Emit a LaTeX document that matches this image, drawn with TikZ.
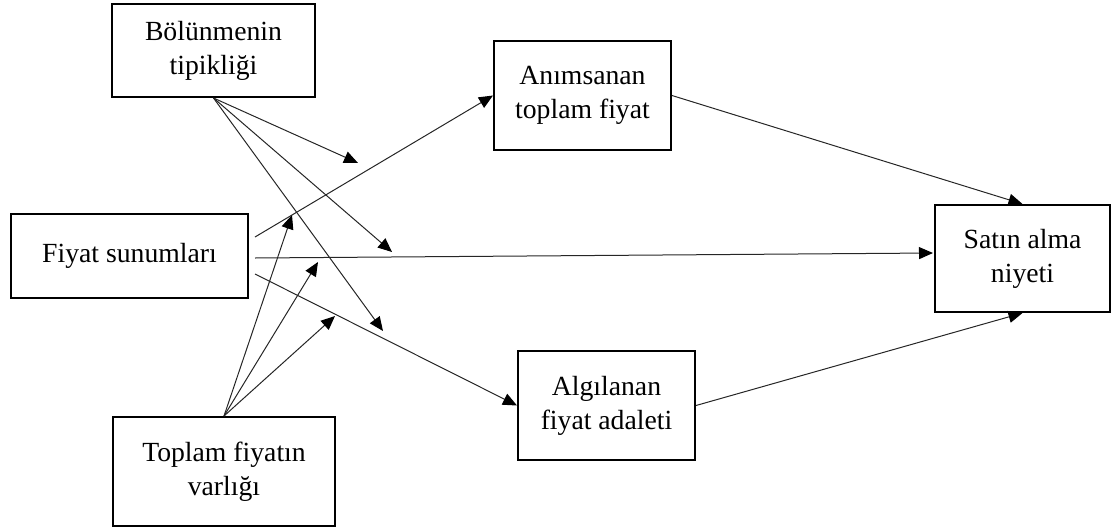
\documentclass[tikz,border=0pt]{standalone}
\usepackage{fontspec}
\setmainfont{Liberation Serif}
\usetikzlibrary{arrows.meta,calc}

\begin{document}
\begin{tikzpicture}[x=1pt,y=-1pt,
  box/.style={draw=black,line width=2pt,fill=white,inner sep=0pt,align=center,
    font=\fontsize{27.7}{34}\selectfont},
  link/.style={line width=1pt,draw=black!85,
    -{Triangle[length=14pt,width=12pt,color=black]}}]
\useasboundingbox (0,0) rectangle (1112,528);

% constructs
\node[box,minimum width=203,minimum height=93] (tip) at (213.5,50.5) {Bölünmenin\\tipikliği};
\node[box,minimum width=237,minimum height=84] (sun) at (129.5,256) {Fiyat sunumları};
\node[box,minimum width=222,minimum height=109] (var) at (224,471.5) {Toplam fiyatın\\varlığı};
\node[box,minimum width=177,minimum height=109] (anim) at (582.5,95.5) {Anımsanan\\toplam fiyat};
\node[box,minimum width=177,minimum height=109] (adal) at (606.5,405.5) {Algılanan\\fiyat adaleti};
\node[box,minimum width=175,minimum height=107] (niy) at (1022.5,258.5) {Satın alma\\niyeti};

% start and end points of the paths
\coordinate (s1) at (255,237);
\coordinate (s2) at (255,258);
\coordinate (s3) at (255,274);
\coordinate (n1) at (933,253);
\coordinate (m1) at (358,163);
\coordinate (m2) at (392,252);
\coordinate (m3) at (383,331);
\coordinate (v1) at (292,215);
\coordinate (v2) at (318,262);
\coordinate (v3) at (335,316);

% main paths
\draw[link] (s1) -- (anim.west);
\draw[link] (s2) -- (n1);
\draw[link] (s3) -- (adal.west);
\draw[link] (anim.east) -- (niy.north);
\draw[link] (adal.east) -- (niy.south);

% moderating effects
\draw[link] (tip.south) -- (m1);
\draw[link] (tip.south) -- (m2);
\draw[link] (tip.south) -- (m3);
\draw[link] (var.north) -- (v1);
\draw[link] (var.north) -- (v2);
\draw[link] (var.north) -- (v3);
\end{tikzpicture}
\end{document}
